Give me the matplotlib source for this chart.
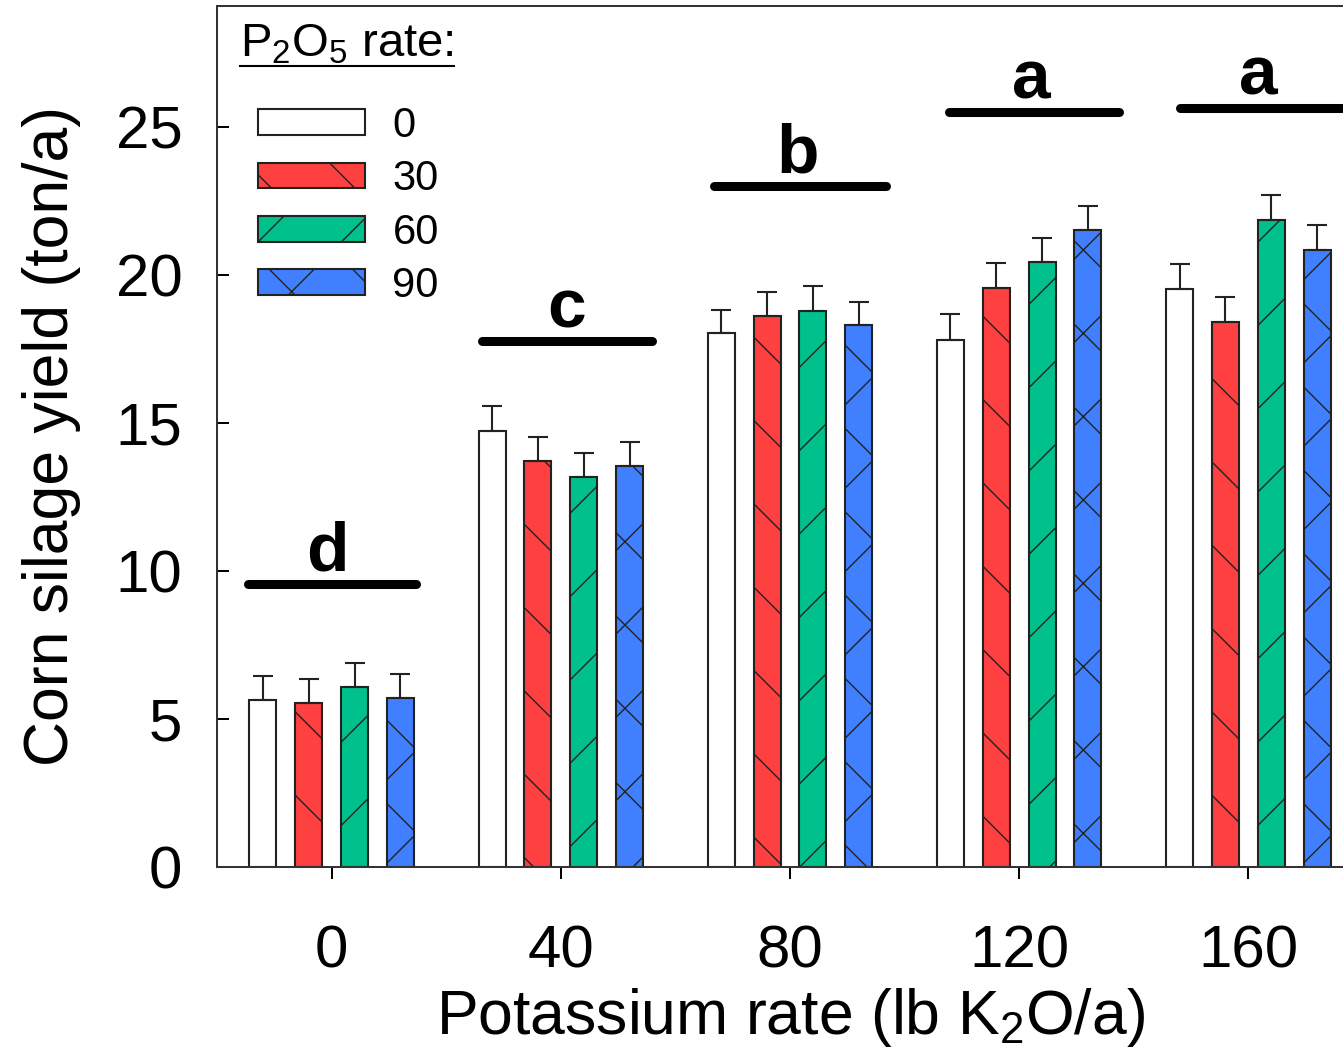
import matplotlib.pyplot as plt
import numpy as np

plt.rcParams['font.family'] = ['Liberation Sans', 'DejaVu Sans']
plt.rcParams['mathtext.default'] = 'regular'
plt.rcParams['hatch.linewidth'] = 0.4
plt.rcParams['hatch.color'] = 'black'

# Data
k_rates = [0, 40, 80, 120, 160]
p_rates = ['0', '30', '60', '90']
yield_p0 = [5.64, 14.74, 18.03, 17.80, 19.54]
yield_p30 = [5.55, 13.72, 18.61, 19.57, 18.40]
yield_p60 = [6.07, 13.17, 18.77, 20.45, 21.85]
yield_p90 = [5.71, 13.56, 18.31, 21.52, 20.84]
se_p0 = [0.81, 0.85, 0.80, 0.87, 0.85]
se_p30 = [0.79, 0.81, 0.81, 0.84, 0.87]
se_p60 = [0.81, 0.82, 0.87, 0.81, 0.86]
se_p90 = [0.80, 0.80, 0.79, 0.81, 0.84]

# mean separation letters per K rate
sig_letters = ['d', 'c', 'b', 'a', 'a']
sig_y = [9.57, 17.78, 23.0, 25.52, 25.64]
sig_start = [-14.6, -13.7, -13.2, -12.3, -11.9]
sig_end = [14.7, 15.9, 16.7, 17.5, 18.0]
sig_text_dx = [-0.8, 1.0, 1.4, 2.2, 1.7]

yields = [yield_p0, yield_p30, yield_p60, yield_p90]
errs = [se_p0, se_p30, se_p60, se_p90]
colors = ['white', '#FF4040', '#00C08B', '#4080FF']
hatches = ['', '\\', '/', 'x']
offsets = [-12, -4, 4, 12]
bar_w = 4.7

W, H, DPI = 1343, 1053, 250
fig = plt.figure(figsize=(W / DPI, H / DPI), dpi=DPI)
# axes runs past the right edge of the picture, as in the original crop
ax = fig.add_axes([217 / W, 186 / H, 1146 / W, 861 / H])

x = np.array(k_rates, dtype=float)
bars = []
for i in range(4):
    b = ax.bar(x + offsets[i], yields[i], width=bar_w, color=colors[i],
               edgecolor='#222222', linewidth=0.6, hatch=hatches[i],
               label=p_rates[i], zorder=2)
    ax.errorbar(x + offsets[i], yields[i],
                yerr=[np.zeros(len(k_rates)), errs[i]],
                fmt='none', ecolor='#222222', elinewidth=0.6,
                capsize=2.9, capthick=0.6, zorder=3)
    bars.append(b)

# letters and lines over each K group
for k, let, yy, s0, s1, dx in zip(k_rates, sig_letters, sig_y, sig_start, sig_end, sig_text_dx):
    ax.plot([k + s0, k + s1], [yy, yy], color='black', lw=2.6,
            solid_capstyle='round', zorder=4)
    ax.text(k + dx, yy + 0.45, let, ha='center', va='baseline',
            fontsize=20, fontweight='bold')

ax.set_xlim(-20, 180)
ax.set_ylim(0, 29.09)
ax.set_xticks(k_rates)
ax.set_yticks([0, 5, 10, 15, 20, 25])
ax.tick_params(axis='y', direction='in', length=3.5, width=0.58, pad=10,
               labelsize=17.3, right=False)
ax.tick_params(axis='x', direction='out', length=3.5, width=0.58, pad=13,
               labelsize=17.3, top=False)
for sp in ax.spines.values():
    sp.set_linewidth(0.58)
    sp.set_color('#333333')

ax.set_xlabel('Potassium rate (lb K$_2$O/a)', fontsize=18, labelpad=2)
ax.set_ylabel('Corn silage yield (ton/a)', fontsize=18, labelpad=10)

# legend
leg = ax.legend(handles=bars, loc='upper left', bbox_to_anchor=(0.036, 0.884),
                frameon=False, fontsize=12, handlelength=2.57, handleheight=0.58,
                handletextpad=0.65, labelspacing=0.32, borderpad=0,
                borderaxespad=0)

title = ax.text(0.0201, 0.9408, 'P$_2$O$_5$ rate:', transform=ax.transAxes,
                fontsize=13.6, ha='left', va='baseline')
fig.canvas.draw()
bb = title.get_window_extent().transformed(ax.transAxes.inverted())
ax.plot([bb.x0, bb.x1], [0.9303, 0.9303], transform=ax.transAxes,
        color='black', lw=0.6, clip_on=False)

fig.savefig('out.png', dpi=DPI)
